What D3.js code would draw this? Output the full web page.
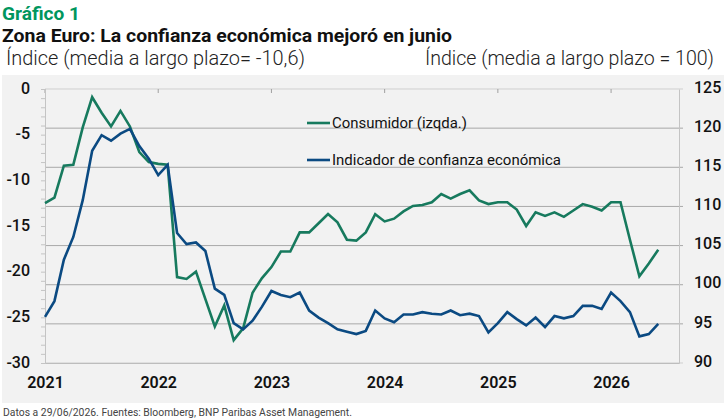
<!DOCTYPE html>
<html>
<head>
<meta charset="utf-8">
<script src="https://cdn.jsdelivr.net/npm/d3@7"></script>
<style>
  html, body { margin: 0; padding: 0; background: #ffffff; }
  svg { display: block; }
  text { font-family: Roboto, "Open Sans", "Noto Sans", sans-serif; }
</style>
</head>
<body>
<svg id="chart" width="725" height="420"></svg>
<script>
// ---- DATA (monthly, Jan 2021 – Jun 2026) ----
const yearLabels = ["2021", "2022", "2023", "2024", "2025", "2026"];
const leftTicks = [0, -5, -10, -15, -20, -25, -30];
const rightTicks = [125, 120, 115, 110, 105, 100, 95, 90];

// Consumidor (izqda.)
const consumer = [
  -12.5, -11.9, -8.4, -8.3, -4.2, -0.9, -2.6, -4.1, -2.4, -4.1, -6.9, -8.0,
  -8.2, -8.3, -20.6, -20.8, -20.0, -23.0, -26.0, -23.7, -27.5, -26.2, -22.3, -20.7,
  -19.5, -17.8, -17.8, -15.7, -15.7, -14.7, -13.7, -14.6, -16.5, -16.6, -15.7, -13.7,
  -14.5, -14.2, -13.4, -12.8, -12.7, -12.4, -11.5, -12.0, -11.5, -11.1, -12.2, -12.6,
  -12.4, -12.4, -13.2, -15.0, -13.5, -13.9, -13.5, -14.0, -13.3, -12.6, -12.9, -13.3,
  -12.4, -12.4, -16.5, -20.5, -19.1, -17.6
];

// Indicador de confianza económica (dcha.)
const esi = [
  95.9, 97.9, 103.2, 106.1, 110.8, 117.1, 119.1, 118.4, 119.3, 119.9, 117.7, 116.1,
  114.0, 115.3, 106.6, 105.2, 105.4, 104.3, 99.5, 98.7, 95.1, 94.3, 95.4, 97.2,
  99.2, 98.7, 98.4, 99.0, 96.7, 95.8, 95.1, 94.3, 94.0, 93.7, 94.1, 96.7,
  95.7, 95.2, 96.2, 96.2, 96.5, 96.3, 96.2, 96.7, 96.1, 96.3, 96.0, 93.9,
  95.1, 96.5, 95.6, 94.8, 95.8, 94.6, 96.0, 95.7, 96.0, 97.3, 97.3, 96.9,
  99.0, 97.9, 96.5, 93.4, 93.7, 95.0
];

const seriesNames = ["Consumidor (izqda.)", "Indicador de confianza económica"];

// ---- LAYOUT ----
const svg = d3.select("#chart");
const mLeft = 45, mRight = 679, mTop = 89, mBottom = 363;
const green = "#177a5e", blue = "#0b4a82";

svg.append("rect").attr("x", 2).attr("y", 75).attr("width", 722).attr("height", 328)
  .attr("fill", "#f2f2f2");

const x = d3.scaleLinear().domain([0, 67.2]).range([mLeft, mRight]);
const yL = d3.scaleLinear().domain([-30, 0]).range([mBottom, mTop]);
const yR = d3.scaleLinear().domain([90, 125]).range([mBottom, mTop]);

// gridlines (right axis values)
svg.append("g").selectAll("line").data(rightTicks).join("line")
  .attr("x1", mLeft).attr("x2", mRight + 4)
  .attr("y1", d => yR(d)).attr("y2", d => yR(d))
  .attr("stroke", d => (d === 125 || d === 90) ? "#cfcfcf" : "#a9a9a9")
  .attr("stroke-width", 1);

// top year ticks
svg.append("g").selectAll("line").data(yearLabels.map((d, i) => i * 12)).join("line")
  .attr("x1", d => x(d)).attr("x2", d => x(d))
  .attr("y1", mTop).attr("y2", mTop + 4)
  .attr("stroke", "#a0a0a0");

// left axis
const gL = svg.append("g").attr("transform", `translate(${mLeft},0)`)
  .call(d3.axisLeft(yL).tickValues(d3.range(-30, 1, 1)).tickSize(4).tickPadding(11)
    .tickFormat(d => leftTicks.includes(d) ? String(d) : ""));
gL.select(".domain").attr("stroke", "#c4c4c4");
gL.selectAll(".tick line").attr("stroke", "#c4c4c4");
gL.selectAll(".tick text").attr("font-size", 16).attr("font-weight", 500)
  .attr("fill", "#111").attr("dy", "0.25em")
  .style("font-family", "Roboto, sans-serif");

// right axis
const gR = svg.append("g").attr("transform", `translate(${mRight},0)`)
  .call(d3.axisRight(yR).tickValues(rightTicks).tickSize(0).tickPadding(15));
gR.select(".domain").attr("stroke", "#c4c4c4");
gR.selectAll(".tick text").attr("font-size", 16).attr("font-weight", 500)
  .attr("fill", "#111").attr("dy", "0.2em")
  .style("font-family", "Roboto, sans-serif");

// bottom axis
const gB = svg.append("g").attr("transform", `translate(0,${mBottom})`)
  .call(d3.axisBottom(x).tickValues(yearLabels.map((d, i) => i * 12)).tickSize(0).tickPadding(14)
    .tickFormat((d, i) => yearLabels[i]));
gB.select(".domain").attr("stroke", "#bdbdbd");
gB.selectAll(".tick text").attr("font-size", 16).attr("font-weight", 600)
  .attr("fill", "#111").style("font-family", "Roboto, sans-serif");

// lines
const lineL = d3.line().x((d, i) => x(i)).y(d => yL(d));
const lineR = d3.line().x((d, i) => x(i)).y(d => yR(d));
svg.append("path").datum(consumer).attr("d", lineL)
  .attr("fill", "none").attr("stroke", green).attr("stroke-width", 2.6);
svg.append("path").datum(esi).attr("d", lineR)
  .attr("fill", "none").attr("stroke", blue).attr("stroke-width", 2.6);

// legend
const legend = [
  { name: seriesNames[0], color: green, y: 123, w: 135 },
  { name: seriesNames[1], color: blue, y: 160, w: 229 }
];
const lg = svg.append("g");
legend.forEach(l => {
  lg.append("line").attr("x1", 307).attr("x2", 330).attr("y1", l.y).attr("y2", l.y)
    .attr("stroke", l.color).attr("stroke-width", 2.6);
  lg.append("text").attr("x", 332).attr("y", l.y + 5).text(l.name)
    .attr("font-size", 15).attr("fill", "#111")
    .attr("textLength", l.w).attr("lengthAdjust", "spacingAndGlyphs");
});

// titles
svg.append("text").attr("x", 2).attr("y", 20).text("Gráfico 1")
  .attr("font-size", 19).attr("font-weight", 700).attr("fill", "#00965e")
  .attr("textLength", 78).attr("lengthAdjust", "spacingAndGlyphs");
svg.append("text").attr("x", 2).attr("y", 42).text("Zona Euro: La confianza económica mejoró en junio")
  .attr("font-size", 18).attr("font-weight", 700).attr("fill", "#111")
  .attr("textLength", 450).attr("lengthAdjust", "spacingAndGlyphs");
svg.append("text").attr("x", 6).attr("y", 65).text("Índice (media a largo plazo= -10,6)")
  .attr("font-size", 20).attr("font-weight", 300).attr("fill", "#222")
  .attr("textLength", 299).attr("lengthAdjust", "spacingAndGlyphs");
svg.append("text").attr("x", 425).attr("y", 65).text("Índice (media a largo plazo = 100)")
  .attr("font-size", 20).attr("font-weight", 300).attr("fill", "#222")
  .attr("textLength", 289).attr("lengthAdjust", "spacingAndGlyphs");

// footer
svg.append("text").attr("x", 3).attr("y", 416)
  .text("Datos a 29/06/2026. Fuentes: Bloomberg, BNP Paribas Asset Management.")
  .attr("font-size", 11).attr("fill", "#444")
  .attr("textLength", 349).attr("lengthAdjust", "spacingAndGlyphs");
</script>
</body>
</html>
